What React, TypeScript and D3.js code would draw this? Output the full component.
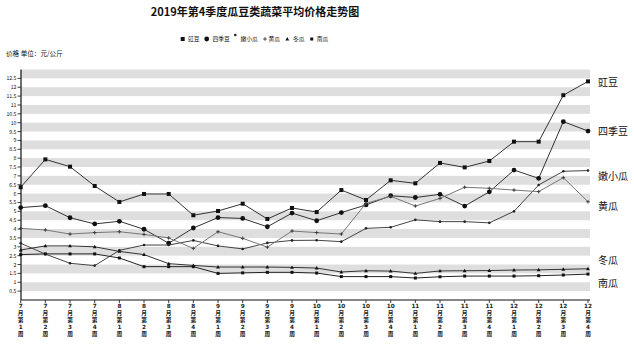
import React from 'react';
import * as d3 from 'd3';

const categories = [
  '7月第1周', '7月第2周', '7月第3周', '7月第4周',
  '8月第1周', '8月第2周', '8月第3周', '8月第4周',
  '9月第1周', '9月第2周', '9月第3周', '9月第4周',
  '10月第1周', '10月第2周', '10月第3周', '10月第4周',
  '11月第1周', '11月第2周', '11月第3周', '11月第4周',
  '12月第1周', '12月第2周', '12月第3周', '12月第4周',
];

const jiangdou = [6.36, 7.93, 7.52, 6.43, 5.53, 5.98, 5.98, 4.78, 5.02, 5.43, 4.57, 5.19, 4.96, 6.2, 5.64, 6.75, 6.58, 7.73, 7.48, 7.84, 8.93, 8.93, 11.55, 12.33];
const sijidou = [5.21, 5.32, 4.64, 4.29, 4.44, 3.99, 3.2, 4.06, 4.65, 4.6, 4.13, 4.9, 4.47, 4.93, 5.36, 5.88, 5.78, 5.96, 5.3, 6.1, 7.33, 6.86, 10.06, 9.53];
const nenxiaogua = [3.2, 2.59, 2.07, 1.94, 2.8, 3.1, 3.1, 3.36, 3.05, 2.88, 3.22, 3.36, 3.37, 3.29, 4.04, 4.1, 4.52, 4.42, 4.42, 4.35, 5.0, 6.49, 7.26, 7.3];
const huanggua = [4.04, 3.95, 3.72, 3.8, 3.85, 3.7, 3.5, 2.91, 3.85, 3.48, 2.98, 3.89, 3.8, 3.72, 5.45, 5.85, 5.3, 5.73, 6.36, 6.3, 6.2, 6.11, 6.9, 5.54];
const donggua = [2.82, 3.05, 3.05, 3.0, 2.74, 2.56, 2.05, 1.95, 1.86, 1.86, 1.86, 1.84, 1.8, 1.58, 1.65, 1.63, 1.5, 1.64, 1.65, 1.66, 1.69, 1.7, 1.73, 1.76];
const nangua = [2.56, 2.6, 2.6, 2.6, 2.37, 1.88, 1.88, 1.88, 1.5, 1.53, 1.56, 1.56, 1.52, 1.32, 1.32, 1.32, 1.24, 1.31, 1.35, 1.35, 1.35, 1.37, 1.41, 1.46];

const seriesNames = ['豇豆', '四季豆', '嫩小瓜', '黄瓜', '冬瓜', '南瓜'];
const seriesValues = [jiangdou, sijidou, nenxiaogua, huanggua, donggua, nangua];
const seriesShapes = ['square', 'circle', 'dot', 'plus', 'triangle', 'smallsquare'];
const seriesColors = ['#333', '#333', '#444', '#777', '#333', '#222'];
// right-hand label positions, in value units
const labelValues = [12.3, 9.5, 6.95, 5.26, 2.22, 0.94];

const yTicks = [0.5, 1, 1.5, 2, 2.5, 3, 3.5, 4, 4.5, 5, 5.5, 6, 6.5, 7, 7.5, 8, 8.5, 9, 9.5, 10, 10.5, 11, 11.5, 12, 12.5];
const yMax = 13;

const W = 634;
const H = 358;
const plotLeft = 21;
const plotRight = 590;
const firstX = 20.7;
const lastX = 588;
const yBottom = 300;
const yTop = 69.5;

const cjk = '"Noto Sans CJK SC", "Noto Sans", sans-serif';
const compact = '"DejaVu Sans", "Noto Sans CJK SC", sans-serif';

function Marker({ shape, x, y }: { shape: string; x: number; y: number }) {
  switch (shape) {
    case 'square':
      return <rect x={x - 2} y={y - 2} width={4} height={4} fill="#111" />;
    case 'circle':
      return <circle cx={x} cy={y} r={2.4} fill="#111" />;
    case 'dot':
      return <circle cx={x} cy={y} r={1.3} fill="#222" />;
    case 'plus':
      return (
        <g stroke="#333" strokeWidth={0.9}>
          <line x1={x - 1.8} x2={x + 1.8} y1={y} y2={y} />
          <line x1={x} x2={x} y1={y - 1.8} y2={y + 1.8} />
        </g>
      );
    case 'triangle':
      return <path d={`M${x},${y - 2}L${x + 1.9},${y + 1.4}L${x - 1.9},${y + 1.4}Z`} fill="#111" />;
    case 'smallsquare':
    default:
      return <rect x={x - 1.5} y={y - 1.5} width={3} height={3} fill="#111" />;
  }
}

export default function App() {
  const x = d3.scalePoint<string>().domain(categories).range([firstX, lastX]).padding(0);
  const y = d3.scaleLinear().domain([0, yMax]).range([yBottom, yTop]);

  const line = d3
    .line<number>()
    .x((_, i) => x(categories[i]) as number)
    .y((d) => y(d));

  const bands = yTicks.filter((t) => t % 1 !== 0).map((t) => [t, t + 0.5]);

  const legendItems = [
    { mx: 182.7, tx: 188, my: 39 },
    { mx: 206.7, tx: 212.5, my: 39 },
    { mx: 235.3, tx: 240.5, my: 35 },
    { mx: 265, tx: 268.5, my: 39 },
    { mx: 287.3, tx: 293, my: 39 },
    { mx: 311.7, tx: 316.7, my: 39 },
  ];

  return (
    <svg width={W} height={H} style={{ position: 'absolute', left: 0, top: 0, background: '#fff' }}>
      <rect x={0} y={0} width={W} height={H} fill="#fff" />
      <text x={255} y={16} textAnchor="middle" fontFamily={cjk} fontSize={11} fontWeight="bold" fill="#111">
        2019年第4季度瓜豆类蔬菜平均价格走势图
      </text>

      {seriesNames.map((name, i) => (
        <g key={name}>
          <Marker shape={seriesShapes[i]} x={legendItems[i].mx} y={legendItems[i].my} />
          <text x={legendItems[i].tx} y={41.3} fontFamily={cjk} fontSize={5.8} fill="#111">
            {name}
          </text>
        </g>
      ))}

      <text x={6} y={55.5} fontFamily={cjk} fontSize={6.6} fill="#111">
        价格 单位：元/公斤
      </text>

      {bands.map(([a, b]) => (
        <rect key={a} x={plotLeft} y={y(b)} width={plotRight - plotLeft} height={y(a) - y(b)} fill="#dedede" />
      ))}

      <line x1={plotLeft} x2={plotLeft} y1={yTop} y2={yBottom} stroke="#111" strokeWidth={1.2} />
      <line x1={plotLeft} x2={plotRight} y1={yBottom} y2={yBottom} stroke="#111" strokeWidth={1.2} />

      {yTicks.map((t) => (
        <g key={t}>
          <line x1={plotLeft - 3.5} x2={plotLeft} y1={y(t)} y2={y(t)} stroke="#111" strokeWidth={0.8} />
          <text x={plotLeft - 4.5} y={y(t) + 2} textAnchor="end" fontFamily={cjk} fontSize={5.2} fill="#111">
            {String(t)}
          </text>
        </g>
      ))}

      {categories.map((c) => {
        const m = c.match(/^(\d+)月第(\d+)周$/);
        const parts = m ? [m[1], '月', '第', m[2], '周'] : [c];
        const cx = x(c) as number;
        return (
          <g key={c}>
            <line x1={cx} x2={cx} y1={yBottom} y2={yBottom + 3} stroke="#111" strokeWidth={0.8} />
            {parts.map((p, k) => (
              <text
                key={k}
                x={cx}
                y={307.5 + k * 7}
                textAnchor="middle"
                fontFamily={compact}
                fontSize={5.7}
                fontWeight="bold"
                fill="#222"
              >
                {p}
              </text>
            ))}
          </g>
        );
      })}

      {seriesValues.map((vals, i) => (
        <g key={seriesNames[i]}>
          <path d={line(vals) || ''} fill="none" stroke={seriesColors[i]} strokeWidth={1} />
          {vals.map((v, j) => (
            <Marker key={j} shape={seriesShapes[i]} x={x(categories[j]) as number} y={y(v)} />
          ))}
        </g>
      ))}

      {seriesNames.map((name, i) => (
        <text key={name} x={598} y={y(labelValues[i]) + 3.6} fontFamily={cjk} fontSize={10} fill="#111">
          {name}
        </text>
      ))}
    </svg>
  );
}
